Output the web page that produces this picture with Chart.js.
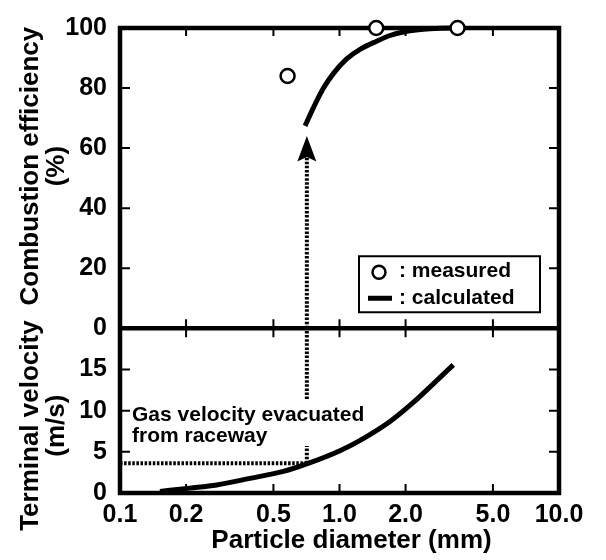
<!DOCTYPE html>
<html><head><meta charset="utf-8">
<script src="https://cdn.jsdelivr.net/npm/chart.js@4.4.0/dist/chart.umd.min.js"></script>
<style>html,body{margin:0;padding:0;background:#fff;} #wrap{width:606px;height:560px;position:relative;}</style>
</head><body><div id="wrap"><canvas id="c" width="606" height="560"></canvas></div>
<script>
// ---- data ----
const xTickValues = [0.1, 0.2, 0.5, 1, 2, 5, 10];
const xTickLabels = ['0.1', '0.2', '0.5', '1.0', '2.0', '5.0', '10.0'];
const effTickValues = [0, 20, 40, 60, 80, 100];
const velTickValues = [0, 5, 10, 15];
const measuredDiam = [0.58, 1.47, 3.45];
const measuredEff = [84, 100, 100];
const calcEffDiam = [0.697, 0.760, 0.844, 0.937, 1.078, 1.240, 1.477, 1.699, 2.024, 2.409, 2.871, 3.5];
const calcEff = [67.4, 73.4, 79.9, 84.8, 89.7, 92.9, 95.6, 97.5, 98.9, 99.6, 99.9, 100];
const calcVelDiam = [0.152, 0.208, 0.276, 0.391, 0.555, 0.709, 1.005, 1.283, 1.699, 2.169, 2.675, 3.300];
const calcVel = [0.19, 0.59, 0.98, 1.78, 2.62, 3.53, 5.13, 6.61, 8.68, 10.99, 13.25, 15.56];
const gasVelocity = 3.6;          // m/s, gas velocity evacuated from raceway
const gasLineDiam = [0.1, 0.71];
const cutDiam = 0.71;             // mm, diameter where terminal velocity = gas velocity
const guideLowerVel = [3.6, 5.7];
const guideUpperVel = [11.4, 20];
const guideEff = [0, 57];
const arrowTipEff = 64;
const arrowBaseEff = 55.5;
const arrowNotchEff = 57;
const annotationLines = ['Gas velocity evacuated', 'from raceway'];
const legendLabels = ['measured', 'calculated'];
const yTitleTop = ['Combustion efficiency', '(%)'];
const yTitleBottom = ['Terminal velocity', '(m/s)'];
const xTitle = 'Particle diameter (mm)';

const FONT = "'Liberation Sans', Arial, Helvetica, sans-serif";
const pts = (xs, ys) => xs.map((x, i) => ({x: x, y: ys[i]}));
const vert = (x, ys) => ys.map(y => ({x: x, y: y}));

const framePlugin = {
  id: 'frame',
  beforeDatasetsDraw(chart) {
    const {ctx, chartArea: a, scales} = chart;
    const xs = scales.x, yT = scales.yTop, yB = scales.yBot;
    const mid = yT.getPixelForValue(0);
    ctx.save();
    ctx.strokeStyle = '#000';
    ctx.lineWidth = 4.5;
    ctx.strokeRect(a.left, a.top, a.right - a.left, a.bottom - a.top);
    ctx.beginPath(); ctx.moveTo(a.left, mid); ctx.lineTo(a.right, mid); ctx.stroke();
    ctx.lineWidth = 2;
    ctx.beginPath();
    xTickValues.slice(1, -1).forEach(v => {
      const px = xs.getPixelForValue(v);
      ctx.moveTo(px, a.top); ctx.lineTo(px, a.top + 8);
      ctx.moveTo(px, mid - 9); ctx.lineTo(px, mid + 9);
      ctx.moveTo(px, a.bottom); ctx.lineTo(px, a.bottom - 9);
    });
    effTickValues.slice(1, -1).forEach(v => {
      const py = yT.getPixelForValue(v);
      ctx.moveTo(a.left, py); ctx.lineTo(a.left + 10, py);
      ctx.moveTo(a.right, py); ctx.lineTo(a.right - 10, py);
    });
    velTickValues.slice(1).forEach(v => {
      const py = yB.getPixelForValue(v);
      ctx.moveTo(a.left, py); ctx.lineTo(a.left + 10, py);
      ctx.moveTo(a.right, py); ctx.lineTo(a.right - 10, py);
    });
    ctx.stroke();
    ctx.restore();
  },
  afterDatasetsDraw(chart) {
    const {ctx, chartArea: a, scales} = chart;
    const xs = scales.x, yT = scales.yTop, yB = scales.yBot;
    const mid = yT.getPixelForValue(0);
    ctx.save();
    ctx.fillStyle = '#000';
    ctx.strokeStyle = '#000';
    // arrow head
    const ax = xs.getPixelForValue(cutDiam);
    const tipY = yT.getPixelForValue(arrowTipEff);
    const baseY = yT.getPixelForValue(arrowBaseEff);
    const notchY = yT.getPixelForValue(arrowNotchEff);
    ctx.beginPath();
    ctx.moveTo(ax, tipY);
    ctx.lineTo(ax + 9.5, baseY);
    ctx.lineTo(ax, notchY);
    ctx.lineTo(ax - 9.5, baseY);
    ctx.closePath();
    ctx.fill();
    // legend
    const lr = a.right - 19, ll = lr - 181, lb = mid - 16, lt = lb - 56;
    ctx.fillStyle = '#fff';
    ctx.fillRect(ll, lt, lr - ll, lb - lt);
    ctx.lineWidth = 2;
    ctx.strokeRect(ll, lt, lr - ll, lb - lt);
    ctx.lineWidth = 2.5;
    ctx.beginPath(); ctx.arc(ll + 20, lt + 16, 6.5, 0, Math.PI * 2);
    ctx.fillStyle = '#fff'; ctx.fill(); ctx.stroke();
    ctx.lineWidth = 5;
    ctx.beginPath(); ctx.moveTo(ll + 9, lt + 42); ctx.lineTo(ll + 33, lt + 42); ctx.stroke();
    ctx.fillStyle = '#000';
    ctx.font = 'bold 21px ' + FONT;
    ctx.textAlign = 'left';
    ctx.textBaseline = 'alphabetic';
    ctx.fillText(': ' + legendLabels[0], ll + 40, lt + 21);
    ctx.fillText(': ' + legendLabels[1], ll + 40, lt + 48);
    // annotation
    ctx.fillText(annotationLines[0], a.left + 12, yB.getPixelForValue(8.8));
    ctx.fillText(annotationLines[1], a.left + 12, yB.getPixelForValue(6.2));
    // axis titles
    ctx.font = 'bold 26px ' + FONT;
    ctx.textAlign = 'center';
    const drawV = (lines, cy) => {
      const xsPos = [37.5, 64];
      lines.forEach((t, i) => {
        ctx.save();
        ctx.translate(xsPos[i], cy);
        ctx.rotate(-Math.PI / 2);
        ctx.fillText(t, 0, 0);
        ctx.restore();
      });
    };
    drawV(yTitleTop, (a.top + mid) / 2 - 12);
    drawV(yTitleBottom, (mid + a.bottom) / 2 + 15);
    ctx.fillText(xTitle, (a.left + a.right) / 2 + 12, a.bottom + 55);
    ctx.restore();
  }
};

const dotted = {borderColor: '#000', borderWidth: 4, borderDash: [2.5, 1.6], pointRadius: 0, fill: false, tension: 0};

new Chart(document.getElementById('c'), {
  type: 'line',
  data: {
    datasets: [
      {label: 'measured', data: pts(measuredDiam, measuredEff), yAxisID: 'yTop', showLine: false,
       pointRadius: 7, pointHoverRadius: 7, pointBorderWidth: 2.5, pointBackgroundColor: '#fff', pointBorderColor: '#000', clip: false},
      {label: 'calculated', data: pts(calcEffDiam, calcEff), yAxisID: 'yTop', borderColor: '#000', borderWidth: 5,
       pointRadius: 0, cubicInterpolationMode: 'monotone', fill: false, clip: false},
      {label: 'terminal velocity', data: pts(calcVelDiam, calcVel), yAxisID: 'yBot', borderColor: '#000', borderWidth: 5,
       pointRadius: 0, cubicInterpolationMode: 'monotone', fill: false},
      Object.assign({label: 'gas velocity', data: pts(gasLineDiam, [gasVelocity, gasVelocity]), yAxisID: 'yBot'}, dotted),
      Object.assign({label: 'guide lower', data: vert(cutDiam, guideLowerVel), yAxisID: 'yBot'}, dotted),
      Object.assign({label: 'guide upper', data: vert(cutDiam, guideUpperVel), yAxisID: 'yBot'}, dotted),
      Object.assign({label: 'guide top', data: vert(cutDiam, guideEff), yAxisID: 'yTop'}, dotted)
    ]
  },
  options: {
    responsive: false,
    animation: false,
    events: [],
    layout: {padding: {left: 0, top: 16, right: 47, bottom: 0}},
    plugins: {legend: {display: false}, tooltip: {enabled: false}},
    scales: {
      x: {
        type: 'logarithmic', position: 'bottom', min: 0.1, max: 10,
        afterBuildTicks: s => { s.ticks = xTickValues.map(v => ({value: v})); },
        afterFit: s => { s.height = 67; },
        grid: {display: false, drawTicks: false},
        border: {display: false},
        ticks: {
          autoSkip: false, maxRotation: 0, padding: 7, color: '#000',
          font: {family: FONT, size: 25, weight: 'bold'},
          callback: v => { const i = xTickValues.indexOf(v); return i >= 0 ? xTickLabels[i] : ''; }
        }
      },
      yBot: {
        type: 'linear', position: 'left', stack: 'panels', stackWeight: 169, min: 0, max: 20,
        afterBuildTicks: s => { s.ticks = velTickValues.map(v => ({value: v})); },
        afterFit: s => { s.width = 120; },
        grid: {display: false, drawTicks: false},
        border: {display: false},
        ticks: {autoSkip: false, padding: 13, color: '#000', font: {family: FONT, size: 25, weight: 'bold'}}
      },
      yTop: {
        type: 'linear', position: 'left', stack: 'panels', stackWeight: 308, min: 0, max: 100,
        afterBuildTicks: s => { s.ticks = effTickValues.map(v => ({value: v})); },
        afterFit: s => { s.width = 120; },
        grid: {display: false, drawTicks: false},
        border: {display: false},
        ticks: {autoSkip: false, padding: 13, color: '#000', font: {family: FONT, size: 25, weight: 'bold'}}
      }
    }
  },
  plugins: [framePlugin]
});
</script>
</body></html>
